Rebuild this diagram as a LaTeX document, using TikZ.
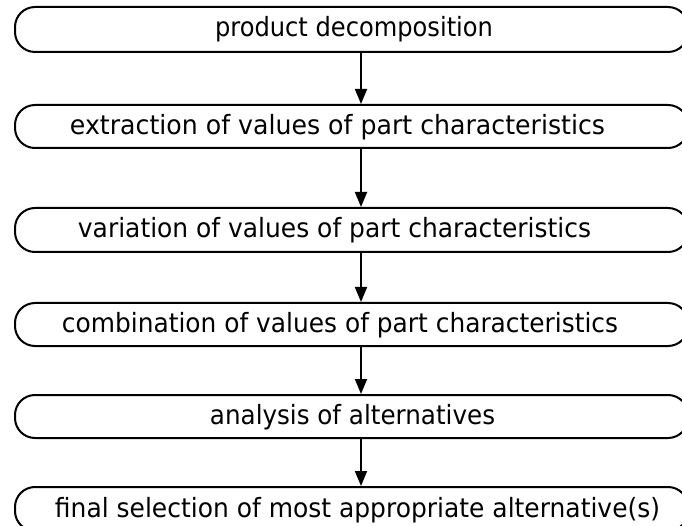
\documentclass[tikz,border=0pt]{standalone}
\usepackage{fontspec}
\usepackage{graphicx}
\setmainfont{DejaVu Sans}
\usetikzlibrary{arrows.meta}
\newcommand{\fitto}[2]{\resizebox{#1pt}{\height}{#2}}
\begin{document}
\begin{tikzpicture}[x=1pt,y=-1pt,
  stage/.style={draw=black,line width=2pt,rounded corners=20pt,minimum width=673pt,inner sep=0pt,fill=white},
  lbl/.style={font=\fontsize{26.5}{30}\selectfont,inner sep=0pt,anchor=base},
  arr/.style={line width=1.8pt,-{Triangle[width=12pt,length=15pt]}}]
\fill[white] (0,0) rectangle (682,526);
\useasboundingbox (0,0) rectangle (682,526);
\clip (0,0) rectangle (682,526);
\node[stage,minimum height=45pt] (b1) at (351.5,29.5) {};
\node[stage,minimum height=43pt] (b2) at (351.5,126.5) {};
\node[stage,minimum height=44pt] (b3) at (351.5,230) {};
\node[stage,minimum height=43pt] (b4) at (351.5,324.5) {};
\node[stage,minimum height=43pt] (b5) at (351.5,416.5) {};
\node[stage,minimum height=44pt] (b6) at (351.5,509) {};
\node[lbl] (t1) at (354,37) {\fitto{278}{product decomposition}};
\node[lbl] (t2) at (337.5,134.5) {\fitto{535}{extraction of values of part characteristics}};
\node[lbl] (t3) at (334.5,238) {\fitto{513}{variation of values of part characteristics}};
\node[lbl] (t4) at (340,332.5) {\fitto{556}{combination of values of part characteristics}};
\node[lbl] (t5) at (352.5,424.5) {\fitto{285}{analysis of alternatives}};
\node[lbl] (t6) at (357.5,517) {\fitto{605}{final selection of most appropriate alternative(s)}};
\coordinate (ax) at (361,0);
\draw[arr] (b1.south -| ax) -- (b2.north -| ax);
\draw[arr] (b2.south -| ax) -- (b3.north -| ax);
\draw[arr] (b3.south -| ax) -- (b4.north -| ax);
\draw[arr] (b4.south -| ax) -- (b5.north -| ax);
\draw[arr] (b5.south -| ax) -- (b6.north -| ax);
\end{tikzpicture}
\end{document}
